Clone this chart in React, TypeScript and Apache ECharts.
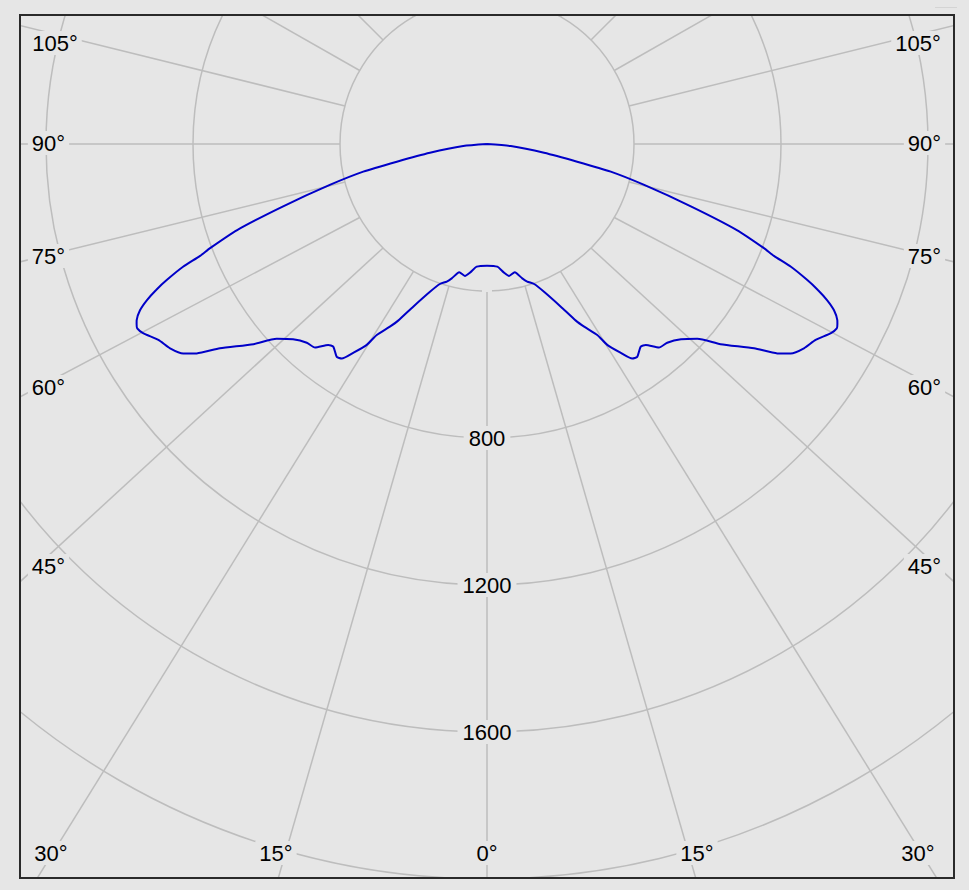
import React, { useEffect, useRef } from 'react';
import * as echarts from 'echarts';

// Photometric curve (symmetric): gamma angle (deg from nadir) and luminous intensity (cd)
const GAMMA = [0, 4.8, 7.5, 9.5, 12.2, 14.7, 16.3, 18.6, 21.1, 24.4, 26.7, 28.0, 30.0, 30.9, 32.6, 34.1, 35.2, 37.2, 38.3, 40.2, 42.2, 44.8, 47.2, 49.4, 52.6, 54.2, 55.4, 57.2, 59.2, 61.2, 62.2, 62.8, 63.3, 64.4, 65.35, 66.2, 67.0, 68.0, 68.7, 69.4, 71.0, 73.0, 75.4, 77.4, 78.9, 81.3, 85.2, 90];
const INTENSITY = [331, 335, 353, 364, 357, 378, 390, 402, 431, 486, 538, 563, 600, 637, 674, 705, 709, 692, 697, 725, 730, 749, 780, 837, 915, 974, 1004, 1026, 1041, 1068, 1076, 1072, 1067, 1047, 1018, 984, 946, 892, 838, 805, 719, 580, 442, 345, 250, 157, 65, 0];

// Radial grid lines: angle at inner circle and angle as drawn at the rim
const GRID_INNER = [0, 15, 30, 45, 60, 75, 90, 105, 120, 135, 150, 165, 180];
const GRID_OUTER = [0, 15.9, 31.5, 47, 61.8, 76, 90, 104.1, 119.7, 135, 150, 165, 180];

// Radius scale
const R_MAX = 2400;
const R_STEP = 400;
const R_INNER = 400;
const RADIUS_LABELS = [800, 1200, 1600];

// Angle labels
const SIDE_LABELS = ['105°', '90°', '75°', '60°', '45°'];
const BOTTOM_LABELS = ['30°', '15°', '0°', '15°', '30°'];

const FONT = "'Liberation Sans', Arial, sans-serif";
const BG = '#e6e6e6';
const GRID = '#bdbdbd';

export default function App() {
  const ref = useRef<HTMLDivElement>(null);

  useEffect(() => {
    if (!ref.current) return;
    const chart = echarts.init(ref.current, undefined, { renderer: 'svg' });

    const curveData: number[][] = [];
    for (let i = GAMMA.length - 1; i >= 0; i--) curveData.push([INTENSITY[i], 360 - GAMMA[i]]);
    for (let i = 1; i < GAMMA.length; i++) curveData.push([INTENSITY[i], GAMMA[i]]);

    const gridData: number[][] = [];
    GRID_INNER.forEach((a, i) => {
      gridData.push([a, GRID_OUTER[i]]);
      if (a !== 0 && a !== 180) gridData.push([360 - a, 360 - GRID_OUTER[i]]);
    });

    const sideLeftPos = [[34, 27], [27.5, 127], [27.5, 240], [27.5, 371], [27.5, 550]];
    const sideRightPos = [[897, 27], [903.5, 127], [903.5, 240], [903.5, 371], [903.5, 550]];
    const bottomPos = [[30, 837], [255, 837], [466, 837], [676, 837], [897, 837]];

    const mkText = (text: string, x: number, y: number) => ({
      type: 'text',
      x,
      y,
      z: 100,
      silent: true,
      style: {
        text,
        fill: '#000',
        font: `22px ${FONT}`,
        align: 'center',
        verticalAlign: 'middle',
        backgroundColor: BG,
        padding: [1, 4],
      },
    });

    const graphics: any[] = [];
    SIDE_LABELS.forEach((t, i) => {
      graphics.push(mkText(t, sideLeftPos[i][0], sideLeftPos[i][1]));
      graphics.push(mkText(t, sideRightPos[i][0], sideRightPos[i][1]));
    });
    BOTTOM_LABELS.forEach((t, i) => graphics.push(mkText(t, bottomPos[i][0], bottomPos[i][1])));

    chart.setOption({
      animation: false,
      backgroundColor: BG,
      polar: { center: [466, 128], radius: 882 },
      angleAxis: {
        type: 'value',
        min: 0,
        max: 360,
        startAngle: 270,
        clockwise: true,
        axisLine: { show: false },
        axisTick: { show: false },
        axisLabel: { show: false },
        splitLine: { show: false },
      },
      radiusAxis: {
        type: 'value',
        min: 0,
        max: R_MAX,
        interval: R_STEP,
        z: 3,
        axisLine: { show: false },
        axisTick: { show: false },
        splitLine: { show: true, lineStyle: { color: GRID, width: 1.5 } },
        axisLabel: {
          margin: 0,
          align: 'center',
          verticalAlign: 'middle',
          formatter: (v: number) => (RADIUS_LABELS.includes(v) ? String(v) : ''),
          fontSize: 22,
          fontFamily: FONT,
          color: '#000',
          backgroundColor: BG,
          padding: [1, 5],
          lineHeight: 22,
        },
      },
      graphic: graphics,
      series: [
        {
          type: 'custom',
          coordinateSystem: 'polar',
          silent: true,
          z: 2,
          data: gridData,
          renderItem: (params: any, api: any) => {
            const p1 = api.coord([R_INNER, api.value(0)]);
            const p2 = api.coord([R_MAX, api.value(1)]);
            return {
              type: 'line',
              shape: { x1: p1[0], y1: p1[1], x2: p2[0], y2: p2[1] },
              style: { stroke: GRID, lineWidth: 1.5 },
            };
          },
        },
        {
          type: 'line',
          coordinateSystem: 'polar',
          z: 4,
          data: curveData,
          showSymbol: false,
          symbol: 'none',
          silent: true,
          smooth: 0.2,
          lineStyle: { color: '#0000c8', width: 2 },
        },
      ],
    });

    return () => chart.dispose();
  }, []);

  return (
    <div style={{ position: 'absolute', left: 0, top: 0, width: 969, height: 890, background: BG, overflow: 'hidden' }}>
      <div
        style={{
          position: 'absolute',
          left: 19,
          top: 14,
          width: 936,
          height: 865,
          boxSizing: 'border-box',
          border: '2px solid #2a2a2a',
        }}
      >
        <div ref={ref} style={{ width: 932, height: 861, overflow: 'hidden' }} />
      </div>
      <div style={{ position: 'absolute', left: 935, top: 7, width: 22, height: 1, background: '#d4d4d4' }} />
    </div>
  );
}
